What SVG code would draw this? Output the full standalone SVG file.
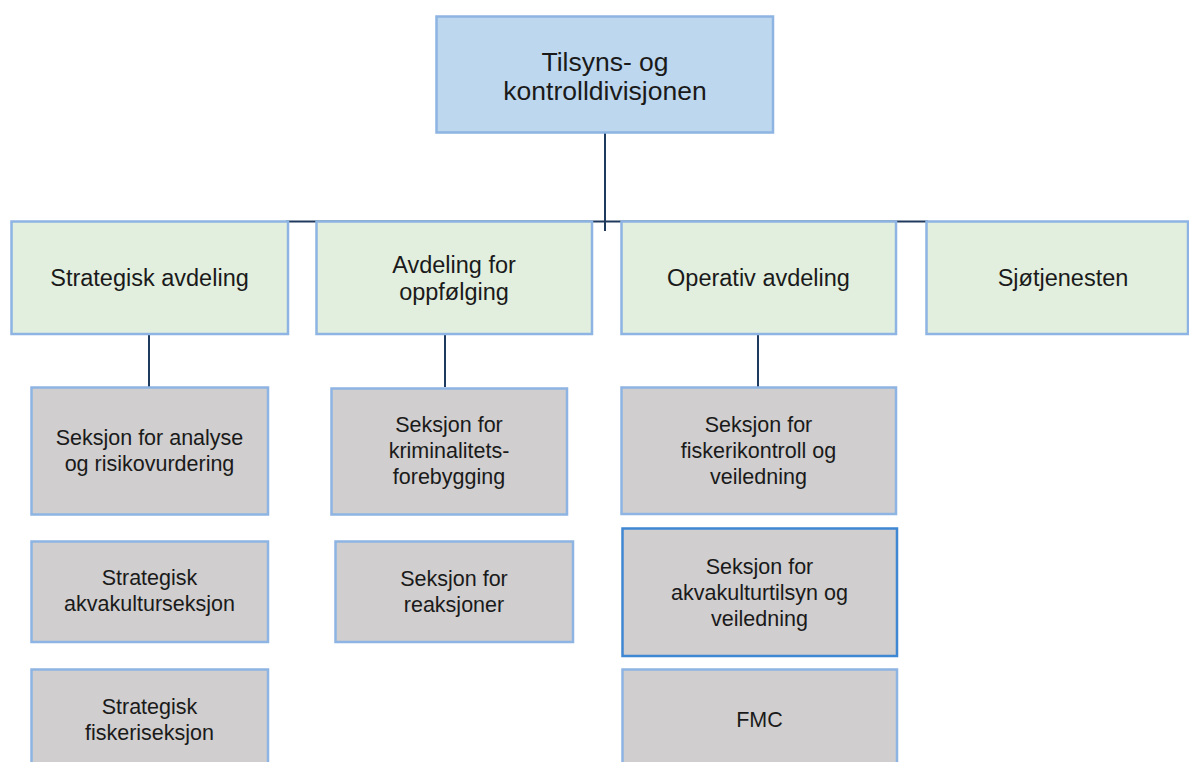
<svg xmlns="http://www.w3.org/2000/svg" width="1189" height="762" viewBox="0 0 1189 762">
<style>
text{font-family:"Liberation Sans",Arial,sans-serif;fill:#1a1a1a;text-anchor:middle}
.top rect{fill:#BDD7EE;stroke:#8DB4E2;stroke-width:2.5}
.dept rect{fill:#E2EFDF;stroke:#8DB4E2;stroke-width:2.5}
.sec rect{fill:#D0CECE;stroke:#8DB4E2;stroke-width:2.5}
.sec.dark rect{stroke:#3F86D3}
.top text{font-size:26.5px}
.dept text{font-size:23.5px}
.sec text{font-size:21.5px}
.conn line{stroke:#1F3A5F;stroke-width:2}
</style>
<rect width="1189" height="762" fill="#fff"/>
<g id="connectors" class="conn">
<line x1="605" y1="133" x2="605" y2="231"/>
<line x1="286" y1="221.5" x2="928" y2="221.5"/>
<line x1="149" y1="334" x2="149" y2="387"/>
<line x1="445" y1="334" x2="445" y2="387"/>
<line x1="758" y1="334" x2="758" y2="391"/>
</g>
<g id="n-top" class="top">
<rect x="436.5" y="16.5" width="336.5" height="116"/>
<text x="605" y="71">Tilsyns- og</text>
<text x="605" y="100">kontrolldivisjonen</text>
</g>
<g id="n-strategisk" class="dept">
<rect x="11.5" y="221.5" width="276.5" height="112.5"/>
<text x="149.5" y="286">Strategisk avdeling</text>
</g>
<g id="n-oppfolging" class="dept">
<rect x="316.5" y="221.5" width="275.5" height="112.5"/>
<text x="454" y="273">Avdeling for</text>
<text x="454" y="300">oppfølging</text>
</g>
<g id="n-operativ" class="dept">
<rect x="621.5" y="221.5" width="274.5" height="112.5"/>
<text x="758.5" y="286">Operativ avdeling</text>
</g>
<g id="n-sjotjenesten" class="dept">
<rect x="926.5" y="221.5" width="261.5" height="112.5"/>
<text x="1063" y="286">Sjøtjenesten</text>
</g>
<g id="n-analyse" class="sec">
<rect x="31.5" y="387.5" width="236.5" height="127"/>
<text x="149.5" y="445">Seksjon for analyse</text>
<text x="149.5" y="471">og risikovurdering</text>
</g>
<g id="n-akvakulturseksjon" class="sec">
<rect x="31.5" y="541.5" width="236.5" height="100.5"/>
<text x="149.5" y="585">Strategisk</text>
<text x="149.5" y="611">akvakulturseksjon</text>
</g>
<g id="n-fiskeriseksjon" class="sec">
<rect x="31.5" y="669.5" width="236.5" height="100"/>
<text x="149.5" y="714">Strategisk</text>
<text x="149.5" y="740">fiskeriseksjon</text>
</g>
<g id="n-kriminalitet" class="sec">
<rect x="331.5" y="388.5" width="235.5" height="126"/>
<text x="449" y="432">Seksjon for</text>
<text x="449" y="458">kriminalitets-</text>
<text x="449" y="484">forebygging</text>
</g>
<g id="n-reaksjoner" class="sec">
<rect x="335.5" y="541.5" width="237.5" height="100.5"/>
<text x="454" y="586">Seksjon for</text>
<text x="454" y="612">reaksjoner</text>
</g>
<g id="n-fiskerikontroll" class="sec">
<rect x="621.5" y="387.5" width="274.5" height="126.5"/>
<text x="758.5" y="432">Seksjon for</text>
<text x="758.5" y="458">fiskerikontroll og</text>
<text x="758.5" y="484">veiledning</text>
</g>
<g id="n-akvakulturtilsyn" class="sec dark">
<rect x="622.5" y="528.5" width="274.5" height="127.5"/>
<text x="759.5" y="574">Seksjon for</text>
<text x="759.5" y="600">akvakulturtilsyn og</text>
<text x="759.5" y="626">veiledning</text>
</g>
<g id="n-fmc" class="sec">
<rect x="622.5" y="669.5" width="274.5" height="100"/>
<text x="759.5" y="727">FMC</text>
</g>
</svg>
